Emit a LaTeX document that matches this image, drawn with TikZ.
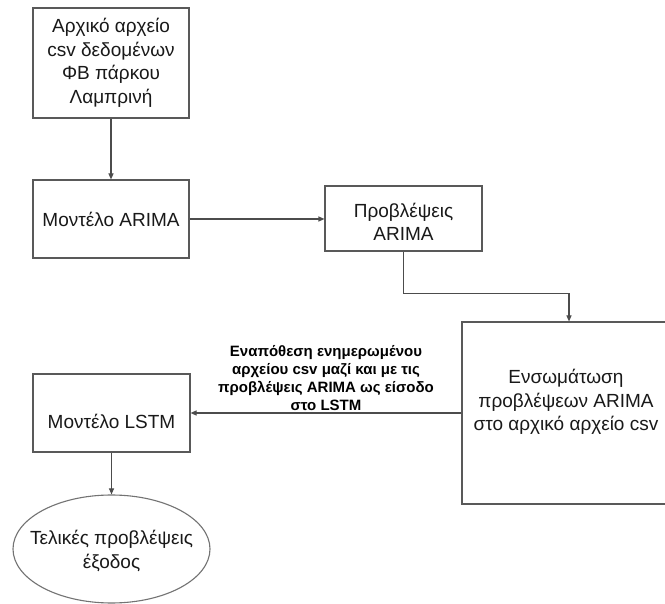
\documentclass[tikz,border=0pt]{standalone}
\usepackage{fontspec}
\setmainfont{Liberation Sans}
\usetikzlibrary{arrows.meta,shapes.geometric}
\begin{document}
\begin{tikzpicture}[x=1pt,y=-1pt,
  box/.style={draw=black!65, line width=1.1pt, rectangle, inner sep=0pt},
  txt/.style={align=center, font=\fontsize{19}{23.5}\selectfont, inner sep=0pt, text=black!90},
  conn/.style={draw=black!70, line width=1.1pt, -{Triangle[length=6pt,width=5pt]}},
  lab/.style={align=center, font=\fontsize{15}{18}\selectfont\bfseries, inner sep=2pt}]
\useasboundingbox (0,0) rectangle (665,604);
\fill[white] (0,0) rectangle (665,604);
\clip (0,0) rectangle (665,604);
\node[box, txt, minimum width=156pt, minimum height=110pt] (src) at (111,63)
  {Αρχικό αρχείο\\csv δεδομένων\\ΦΒ πάρκου\\Λαμπρινή};
\node[box, txt, minimum width=156pt, minimum height=78pt] (arima) at (111,219)
  {Μοντέλο ARIMA};
\node[box, minimum width=157pt, minimum height=65pt] (pred) at (403.5,218.5) {};
\node[txt] (predtxt) at (403.5,222) {Προβλέψεις\\ARIMA};
\node[box, minimum width=214pt, minimum height=182pt] (merge) at (569,413) {};
\node[txt] (mergetxt) at (566,402) {Ενσωμάτωση\\προβλέψεων ARIMA\\στο αρχικό αρχείο csv};
\node[box, minimum width=157pt, minimum height=78pt] (lstm) at (111.5,413) {};
\node[txt] (lstmtxt) at (111.5,421) {Μοντέλο LSTM};
\node[ellipse, draw=black!55, line width=1.1pt, minimum width=197pt, minimum height=108pt, inner sep=0pt] (out) at (111.5,549) {};
\node[txt] (outtxt) at (111.5,551) {Τελικές προβλέψεις\\έξοδος};
\draw[conn] (src) -- (arima);
\draw[conn] (arima.east) -- (arima.east -| pred.west);
\draw[conn] (pred.south) -- ++(0,42) -| (merge.north);
\draw[conn] (merge.west) -- node[lab, above] (note)
  {Εναπόθεση ενημερωμένου\\αρχείου csv μαζί και με τις\\προβλέψεις ARIMA ως είσοδο\\στο LSTM} (merge.west -| lstm.east);
\draw[conn] (lstm) -- (out);
\end{tikzpicture}
\end{document}
